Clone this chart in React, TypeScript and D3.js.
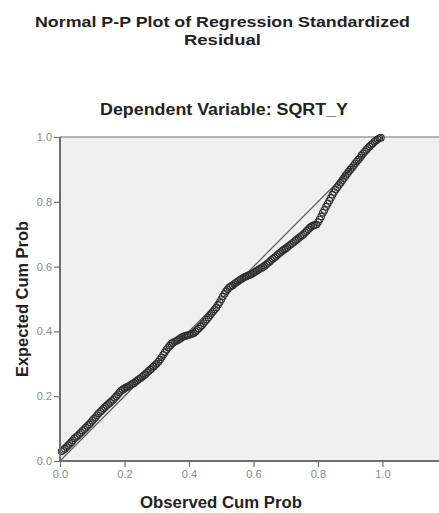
import React, { useEffect, useRef } from "react";
import * as d3 from "d3";

const observedCumProb: number[] = [
  0.005, 0.010, 0.015, 0.020, 0.025, 0.030, 0.035, 0.040, 0.045, 0.050, 0.055, 0.060, 0.065, 0.070, 0.075, 0.080, 0.085, 0.090, 0.095, 0.100,
  0.105, 0.110, 0.115, 0.120, 0.125, 0.130, 0.135, 0.140, 0.145, 0.150, 0.155, 0.160, 0.165, 0.170, 0.175, 0.180, 0.185, 0.190, 0.195, 0.200,
  0.205, 0.210, 0.215, 0.220, 0.225, 0.230, 0.235, 0.240, 0.245, 0.250, 0.255, 0.260, 0.265, 0.270, 0.275, 0.280, 0.285, 0.290, 0.295, 0.300,
  0.305, 0.310, 0.315, 0.320, 0.325, 0.330, 0.335, 0.340, 0.345, 0.350, 0.355, 0.360, 0.365, 0.370, 0.375, 0.380, 0.385, 0.390, 0.395, 0.400,
  0.405, 0.410, 0.415, 0.420, 0.425, 0.430, 0.435, 0.440, 0.445, 0.450, 0.455, 0.460, 0.465, 0.470, 0.475, 0.480, 0.485, 0.490, 0.495, 0.500,
  0.505, 0.510, 0.515, 0.520, 0.525, 0.530, 0.535, 0.540, 0.545, 0.550, 0.555, 0.560, 0.565, 0.570, 0.575, 0.580, 0.585, 0.590, 0.595, 0.600,
  0.605, 0.610, 0.615, 0.620, 0.625, 0.630, 0.635, 0.640, 0.645, 0.650, 0.655, 0.660, 0.665, 0.670, 0.675, 0.680, 0.685, 0.690, 0.695, 0.700,
  0.705, 0.710, 0.715, 0.720, 0.725, 0.730, 0.735, 0.740, 0.745, 0.750, 0.755, 0.760, 0.765, 0.770, 0.775, 0.780, 0.785, 0.790, 0.795, 0.800,
  0.805, 0.810, 0.815, 0.820, 0.825, 0.830, 0.835, 0.840, 0.845, 0.850, 0.855, 0.860, 0.865, 0.870, 0.875, 0.880, 0.885, 0.890, 0.895, 0.900,
  0.905, 0.910, 0.915, 0.920, 0.925, 0.930, 0.935, 0.940, 0.945, 0.950, 0.955, 0.960, 0.965, 0.970, 0.975, 0.980, 0.985, 0.990, 0.995,
];

const expectedCumProb: number[] = [
  0.030, 0.034, 0.038, 0.043, 0.048, 0.053, 0.058, 0.064, 0.070, 0.074, 0.078, 0.083, 0.088, 0.093, 0.098, 0.103, 0.108, 0.113, 0.118, 0.124,
  0.130, 0.135, 0.141, 0.147, 0.152, 0.157, 0.162, 0.167, 0.172, 0.176, 0.180, 0.185, 0.189, 0.195, 0.200, 0.206, 0.212, 0.217, 0.221, 0.224,
  0.227, 0.229, 0.232, 0.235, 0.238, 0.241, 0.245, 0.249, 0.253, 0.256, 0.260, 0.264, 0.268, 0.273, 0.278, 0.282, 0.287, 0.291, 0.296, 0.301,
  0.306, 0.313, 0.320, 0.328, 0.336, 0.343, 0.350, 0.356, 0.362, 0.365, 0.368, 0.370, 0.373, 0.376, 0.380, 0.383, 0.385, 0.386, 0.388, 0.389,
  0.391, 0.393, 0.395, 0.399, 0.404, 0.409, 0.414, 0.419, 0.425, 0.431, 0.437, 0.443, 0.450, 0.456, 0.462, 0.468, 0.474, 0.482, 0.490, 0.499,
  0.508, 0.516, 0.524, 0.530, 0.536, 0.539, 0.542, 0.546, 0.550, 0.553, 0.557, 0.560, 0.563, 0.566, 0.569, 0.571, 0.573, 0.575, 0.578, 0.581,
  0.584, 0.587, 0.590, 0.593, 0.596, 0.599, 0.603, 0.607, 0.611, 0.615, 0.620, 0.624, 0.628, 0.632, 0.637, 0.641, 0.645, 0.649, 0.653, 0.656,
  0.660, 0.664, 0.668, 0.672, 0.676, 0.680, 0.684, 0.688, 0.692, 0.696, 0.700, 0.705, 0.710, 0.715, 0.720, 0.724, 0.727, 0.728, 0.730, 0.737,
  0.745, 0.755, 0.766, 0.775, 0.785, 0.794, 0.803, 0.812, 0.822, 0.830, 0.838, 0.845, 0.852, 0.859, 0.866, 0.873, 0.880, 0.886, 0.893, 0.899,
  0.905, 0.911, 0.918, 0.924, 0.930, 0.936, 0.943, 0.949, 0.955, 0.960, 0.966, 0.971, 0.976, 0.980, 0.985, 0.989, 0.993, 0.996, 0.998,
];

const xTickValues: number[] = [0.0, 0.2, 0.4, 0.6, 0.8, 1.0];
const yTickValues: number[] = [0.0, 0.2, 0.4, 0.6, 0.8, 1.0];
const referenceLine: [number, number][] = [[0, 0], [1, 1]];

const titleLines: string[] = ["Normal P-P Plot of Regression Standardized", "Residual"];
const subtitle = "Dependent Variable: SQRT_Y";
const xLabel = "Observed Cum Prob";
const yLabel = "Expected Cum Prob";

const W = 439;
const H = 513;
const FONT = "'Liberation Sans', Arial, Helvetica, sans-serif";

export default function App() {
  const xAxisRef = useRef<SVGGElement>(null);
  const yAxisRef = useRef<SVGGElement>(null);

  const x = d3.scaleLinear().domain([0, 1.17]).range([60, 437.3]);
  const y = d3.scaleLinear().domain([0, 1]).range([461, 137]);

  useEffect(() => {
    const fmt = d3.format(".1f");
    const xa = d3.select(xAxisRef.current!);
    xa.call(d3.axisBottom(x).tickValues(xTickValues).tickFormat((d) => fmt(d as number)).tickSize(6).tickPadding(3) as any);
    const ya = d3.select(yAxisRef.current!);
    ya.call(d3.axisLeft(y).tickValues(yTickValues).tickFormat((d) => fmt(d as number)).tickSize(6).tickPadding(2) as any);
    [xa, ya].forEach((g) => {
      g.select(".domain").remove();
      g.selectAll(".tick line").attr("stroke", "#6e6e6e").attr("stroke-width", 1.2);
      g.selectAll(".tick text")
        .attr("fill", "#8a8a8a")
        .attr("font-size", 11)
        .attr("font-family", FONT);
    });
  }, []);

  const line = d3
    .line<[number, number]>()
    .x((d) => x(d[0]))
    .y((d) => y(d[1]));

  const pts = observedCumProb.map((v, i) => [v, expectedCumProb[i]] as [number, number]);

  return (
    <svg width={W} height={H} style={{ position: "absolute", left: 0, top: 0, background: "#fff" }}>
      <rect x={x(0)} y={y(1)} width={W - x(0)} height={y(0) - y(1)} fill="#f0f0f0" />
      <line x1={x(0)} x2={W} y1={y(1)} y2={y(1)} stroke="#6e6e6e" strokeWidth={1.2} />
      <path d={line(referenceLine) || ""} stroke="#5a5a5a" strokeWidth={1.2} fill="none" />
      <g>
        {pts.map((p, i) => (
          <circle key={i} cx={x(p[0])} cy={y(p[1])} r={3.3} fill="none" stroke="#2e2e2e" strokeWidth={1.1} />
        ))}
      </g>
      <line x1={x(0)} x2={x(0)} y1={y(1)} y2={y(0)} stroke="#6e6e6e" strokeWidth={2} />
      <line x1={x(0)} x2={W} y1={y(0)} y2={y(0)} stroke="#6e6e6e" strokeWidth={2} />
      <g ref={xAxisRef} transform={`translate(0,${y(0)})`} />
      <g ref={yAxisRef} transform={`translate(${x(0)},0)`} />

      <text x={222.5} y={27} textAnchor="middle" fontFamily={FONT} fontWeight="bold" fontSize={15.5} fill="#222" textLength={375} lengthAdjust="spacingAndGlyphs">
        {titleLines[0]}
      </text>
      <text x={222.5} y={45} textAnchor="middle" fontFamily={FONT} fontWeight="bold" fontSize={15.5} fill="#222" textLength={77} lengthAdjust="spacingAndGlyphs">
        {titleLines[1]}
      </text>
      <text x={224} y={115} textAnchor="middle" fontFamily={FONT} fontWeight="bold" fontSize={16} fill="#222" textLength={248} lengthAdjust="spacingAndGlyphs">
        {subtitle}
      </text>
      <text x={221} y={508} textAnchor="middle" fontFamily={FONT} fontWeight="bold" fontSize={16} fill="#222" textLength={162} lengthAdjust="spacingAndGlyphs">
        {xLabel}
      </text>
      <text transform={`translate(27.5,${(y(0) + y(1)) / 2}) rotate(-90)`} textAnchor="middle" fontFamily={FONT} fontWeight="bold" fontSize={16} fill="#222" textLength={156} lengthAdjust="spacingAndGlyphs">
        {yLabel}
      </text>
    </svg>
  );
}
